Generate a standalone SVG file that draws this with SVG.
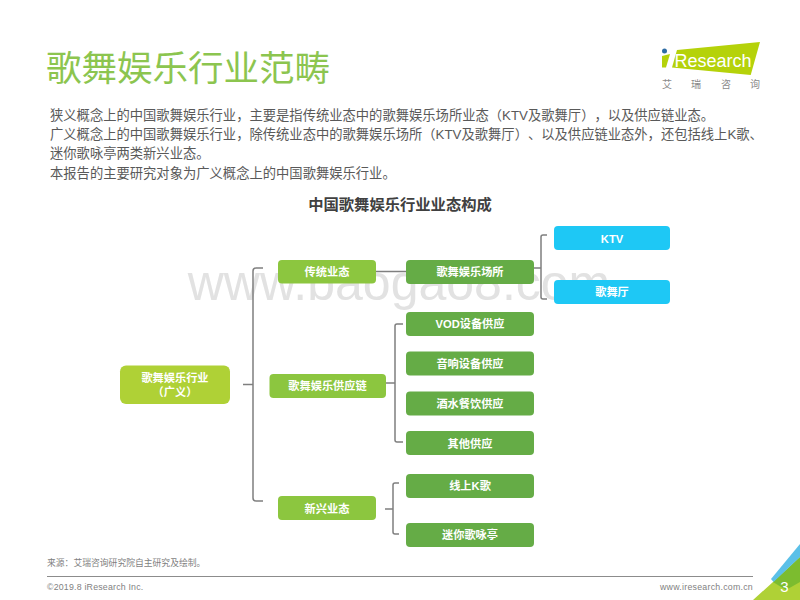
<svg xmlns="http://www.w3.org/2000/svg" width="800" height="600" viewBox="0 0 800 600">
<style>
text{font-family:"Liberation Sans","Noto Sans CJK SC",sans-serif;text-spacing-trim:space-all}
.body{font-size:13.3px;fill:#595959}
.n{font-size:11.2px;font-weight:700;fill:#fff;text-anchor:middle}
.g1{fill:#8cc63f}.g2{fill:#65ac46}.b{fill:#1ec8f5}
.c{fill:none;stroke:#7f7f7f;stroke-width:1.5}
.foot{font-size:8.8px;fill:#7f7f7f}
.lg{font-size:10px;fill:#8a8a8a}
</style>
<rect width="800" height="600" fill="#fff"/>
<text x="399" y="300" font-size="50" fill="#e2e2e2" text-anchor="middle">www.baogao8.com</text>
<text x="46" y="81" font-size="35.500" fill="#8cc54f">歌舞娱乐行业范畴</text>
<g id="logo">
<polygon points="677,50 760,42 750.700,75 672,67.500" fill="#b5d20a"/>
<polygon points="662,56 670,54 666,67.500 662,67.500" fill="#b5d20a"/>
<circle cx="664.500" cy="51" r="2.500" fill="#2e6ca4"/>
<text x="674.500" y="66.500" font-size="18" fill="#fff">Research</text>
<text class="lg" x="662" y="88">艾</text>
<text class="lg" x="691" y="88">瑞</text>
<text class="lg" x="721" y="88">咨</text>
<text class="lg" x="750" y="88">询</text>
</g>
<text class="body" x="50" y="120">狭义概念上的中国歌舞娱乐行业，主要是指传统业态中的歌舞娱乐场所业态（KTV及歌舞厅），以及供应链业态。</text>
<text class="body" x="50" y="139">广义概念上的中国歌舞娱乐行业，除传统业态中的歌舞娱乐场所（KTV及歌舞厅）、以及供应链业态外，还包括线上K歌、</text>
<text class="body" x="50" y="158">迷你歌咏亭两类新兴业态。</text>
<text class="body" x="50" y="178">本报告的主要研究对象为广义概念上的中国歌舞娱乐行业。</text>
<text x="400" y="209.500" font-size="15.300" font-weight="700" fill="#404040" text-anchor="middle">中国歌舞娱乐行业业态构成</text>
<g id="connectors">
<path class="c" d="M243 384.500H253M263 268H256Q253 268 253 271V498Q253 501 256 501H263"/>
<path class="c" d="M376 271.500H406"/>
<path class="c" d="M534 268H541M547 235H543Q541 235 541 237V297Q541 299 543 299H547"/>
<path class="c" d="M386 383H395M403 324H397Q395 324 395 326V440Q395 442 397 442H403"/>
<path class="c" d="M385 509H393M399 483H395Q393 483 393 485V532Q393 534 395 534H399"/>
</g>
<g id="n-root"><rect class="g1" style="fill:#afd136" x="120" y="365.500" width="110" height="38.500" rx="6"/><text class="n" x="175" y="382">歌舞娱乐行业<tspan x="175" dy="14">（广义）</tspan></text></g>
<g id="n-trad"><rect class="g1" x="278" y="260" width="98" height="23.500" rx="4"/><text class="n" x="327" y="276">传统业态</text></g>
<g id="n-chain"><rect class="g1" x="269.500" y="374" width="116.500" height="24" rx="4"/><text class="n" x="327.500" y="390">歌舞娱乐供应链</text></g>
<g id="n-new"><rect class="g1" x="278" y="496" width="98" height="24" rx="4"/><text class="n" x="327" y="513">新兴业态</text></g>
<g id="n-venue"><rect class="g2" x="406" y="260" width="128" height="24" rx="4"/><text class="n" x="470" y="276">歌舞娱乐场所</text></g>
<g id="n-ktv"><rect class="b" x="554" y="226" width="116" height="24" rx="4"/><text class="n" x="612" y="243">KTV</text></g>
<g id="n-hall"><rect class="b" x="554" y="280" width="116" height="24" rx="4"/><text class="n" x="612" y="296">歌舞厅</text></g>
<g id="n-vod"><rect class="g2" x="406" y="312" width="128" height="24" rx="4"/><text class="n" x="470" y="328">VOD设备供应</text></g>
<g id="n-audio"><rect class="g2" x="406" y="351.500" width="128" height="24" rx="4"/><text class="n" x="470" y="368">音响设备供应</text></g>
<g id="n-drink"><rect class="g2" x="406" y="391.500" width="128" height="24" rx="4"/><text class="n" x="470" y="408">酒水餐饮供应</text></g>
<g id="n-other"><rect class="g2" x="406" y="431" width="128" height="24" rx="4"/><text class="n" x="470" y="448">其他供应</text></g>
<g id="n-online"><rect class="g2" x="406" y="474" width="128" height="24" rx="4"/><text class="n" x="470" y="490">线上K歌</text></g>
<g id="n-mini"><rect class="g2" x="406" y="523" width="128" height="24" rx="4"/><text class="n" x="470" y="539">迷你歌咏亭</text></g>
<text class="foot" x="47" y="566">来源：艾瑞咨询研究院自主研究及绘制。</text>
<path d="M47 576.500H753" stroke="#8c8c8c" stroke-width="1"/>
<text class="foot" x="47" y="590" letter-spacing=".2">©2019.8 iResearch Inc.</text>
<text class="foot" x="753" y="590" text-anchor="end" letter-spacing=".25">www.iresearch.com.cn</text>
<g id="corner">
<polygon points="753,600 773,582 800,557 800,600" fill="#afd136"/>
<polygon points="773,582 800,557 800,582 786,590" fill="#7cbc2f"/>
<polygon points="800,544 771,579 773.500,582 800,557" fill="#5bc0e8"/>
</g>
<text x="784.500" y="592" font-size="15" fill="#fff" text-anchor="middle">3</text>
</svg>
